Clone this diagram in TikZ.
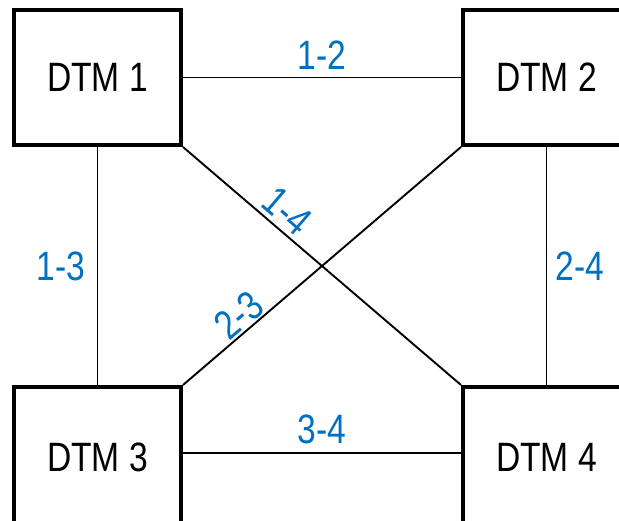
\documentclass[tikz,border=0pt]{standalone}
\usepackage{fontspec}
\setmainfont[FakeStretch=0.82]{Liberation Sans}
\definecolor{lblblue}{HTML}{0070C0}
\begin{document}
\begin{tikzpicture}[x=1pt,y=-1pt,
  dtm/.style={draw, line width=4pt, minimum width=167pt, minimum height=135pt, inner sep=0pt, font=\fontsize{41}{48}\selectfont},
  dtmlow/.style={dtm, minimum height=141pt},
  conn/.style={draw, line width=1.9pt},
  lbl/.style={text=lblblue, inner sep=0pt, font=\fontsize{41}{48}\selectfont}]
\useasboundingbox (0,0) rectangle (619,521);
\clip (0,0) rectangle (619,521);
\node[dtm] (d1) at (97.5,77.5) {DTM 1};
\node[dtm] (d2) at (546.5,77.5) {DTM 2};
\node[dtmlow] (d3) at (97.5,457.5) {DTM 3};
\node[dtmlow] (d4) at (546.5,457.5) {DTM 4};
\draw[conn] (d1) -- node[lbl, above, yshift=7pt] (l12) {1-2} (d2);
\draw[conn] (d3.east |- 0,453) -- node[lbl, above, yshift=8pt] (l34) {3-4} (d4.west |- 0,453);
\draw[conn] (d1) -- node[lbl, left, xshift=-11pt] (l13) {1-3} (d3);
\draw[conn] (d2) -- node[lbl, right, xshift=8pt] (l24) {2-4} (d4);
\draw[conn] (d1.south east) -- node[lbl, pos=0.33, sloped, above, yshift=4pt] (l14) {1-4} (d4.north west);
\draw[conn] (d3.north east) -- node[lbl, pos=0.24, sloped, above, yshift=1pt] (l23) {2-3} (d2.south west);
\end{tikzpicture}
\end{document}
